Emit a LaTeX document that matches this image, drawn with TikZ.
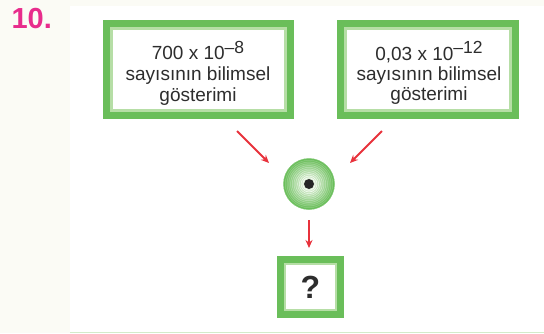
\documentclass[tikz,border=0pt]{standalone}
\usepackage{fontspec}
\setmainfont{Liberation Sans}
\usetikzlibrary{arrows.meta}
\definecolor{bggray}{RGB}{251,251,245}
\definecolor{gborder}{RGB}{106,190,90}
\definecolor{glight}{RGB}{182,222,166}
\definecolor{gpale}{RGB}{236,246,230}
\definecolor{numpink}{RGB}{232,44,140}
\definecolor{arrred}{RGB}{232,50,60}
\definecolor{txtgray}{RGB}{45,45,45}
\tikzset{
  outerbox/.style={rectangle, fill=gborder, inner sep=0pt, outer sep=0pt},
  innerbox/.style={rectangle, fill=white, draw=glight, line width=3.5pt, inner sep=0pt, outer sep=0pt},
  boxtext/.style={align=center, text=txtgray, inner sep=0pt, font=\fontsize{19}{21}\selectfont},
  redarrow/.style={draw=arrred, line width=2pt, -{Stealth[length=8pt,width=7pt]}},
}
\newcommand{\supx}[1]{\raisebox{6.5pt}{\fontsize{17.5}{17.5}\selectfont #1}}
\begin{document}
\begin{tikzpicture}[x=1pt,y=-1pt]
\useasboundingbox (0,0) rectangle (544,333);
\fill[bggray] (0,0) rectangle (544,333);
\fill[white] (70,6) rectangle (544,332);
\draw[glight!60, line width=0.8pt] (70,332) -- (544,332);

\node[text=numpink, font=\bfseries\fontsize{29}{29}\selectfont, anchor=base west] (num) at (8,28) {10.};

% left box
\node[outerbox, minimum width=191pt, minimum height=99pt] (Lo) at (198.5,69.5) {};
\node[innerbox, minimum width=174pt, minimum height=82pt] (L) at (198.5,69.5) {};
\node[boxtext] (Lt) at (198,73.5) {700 x 10\supx{–8}\\sayısının bilimsel\\gösterimi};

% right box
\node[outerbox, minimum width=182pt, minimum height=99pt] (Ro) at (428,69.5) {};
\node[innerbox, minimum width=165pt, minimum height=82pt] (R) at (428,69.5) {};
\node[boxtext, font=\fontsize{19}{20}\selectfont] (Rt) at (429,73) {0,03 x 10\supx{–12}\\sayısının bilimsel\\gösterimi};

% circle
\node[circle, minimum size=52pt, inner sep=0pt, outer sep=0pt] (C) at (309,184) {};
\foreach \i in {0,...,11} {
  \pgfmathsetmacro{\rr}{25.5-1.75*\i}
  \pgfmathsetmacro{\pc}{100-8*\i}
  \pgfmathsetmacro{\pd}{85-8*\i}
  \filldraw[fill=gborder!\pc!gpale, draw=gborder!\pd!white, line width=0.5pt] (C.center) circle[radius=\rr];
}
\fill[black!85] (C.center) circle[radius=5];

% question box
\node[outerbox, minimum width=67pt, minimum height=62pt] (Qo) at (310.5,287) {};
\node[innerbox, line width=2.5pt, minimum width=51pt, minimum height=46pt] (Q) at (310.5,287) {};
\node[boxtext, font=\bfseries\fontsize{32}{32}\selectfont] (Qt) at (310.5,287) {?};

% arrows
\coordinate (a1s) at (237,131);
\coordinate (a1e) at (269,163);
\coordinate (a2s) at (382,131);
\coordinate (a2e) at (350,163);
\draw[redarrow] (a1s) -- (a1e);
\draw[redarrow] (a2s) -- (a2e);
\draw[redarrow, shorten <=10pt, shorten >=8pt] (C) -- (C |- Qo.north);
\end{tikzpicture}
\end{document}
